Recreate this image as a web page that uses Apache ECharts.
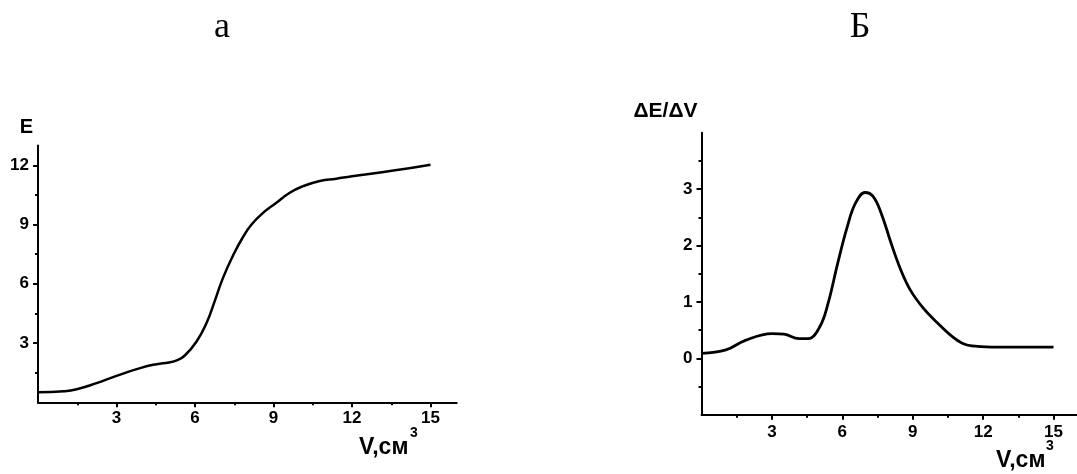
<!DOCTYPE html>
<html>
<head>
<meta charset="utf-8">
<script src="https://cdn.jsdelivr.net/npm/echarts@6/dist/echarts.min.js"></script>
<style>
  html, body { margin: 0; padding: 0; background: #fff; }
  #chart { width: 1077px; height: 474px; }
</style>
</head>
<body>
<div id="chart"></div>
<script>
// ---- Data (a): E vs V ----
const vA = [0, 1.0, 1.48, 2.24, 3.0, 3.9, 4.53, 5.0, 5.3, 5.61, 6.06, 6.44, 6.76, 7.07, 7.46, 7.84, 8.16, 8.6, 9.11, 9.62, 10.13, 10.77, 11.4, 12.0, 13.58, 15.0];
const eA = [0.51, 0.56, 0.66, 0.97, 1.34, 1.73, 1.93, 2.02, 2.12, 2.37, 3.08, 4.01, 5.15, 6.3, 7.45, 8.38, 9.0, 9.59, 10.1, 10.61, 10.94, 11.2, 11.32, 11.44, 11.73, 12.03];

// ---- Data (Б): dE/dV vs V ----
const vB = [0, 1.04, 1.87, 3.0, 3.52, 4.15, 4.56, 5.04, 5.39, 5.8, 6.21, 6.56, 6.97, 7.31, 7.66, 8.08, 8.49, 8.9, 9.45, 10.0, 10.7, 11.11, 11.52, 12.35, 15.0];
const dB = [0.09, 0.15, 0.32, 0.44, 0.43, 0.35, 0.35, 0.56, 0.97, 1.68, 2.33, 2.75, 2.94, 2.87, 2.57, 2.04, 1.57, 1.21, 0.89, 0.65, 0.38, 0.27, 0.22, 0.20, 0.20];

// ---- Tick values ----
const xMajor = [3, 6, 9, 12, 15];
const xMinor = [1.5, 4.5, 7.5, 10.5, 13.5];
const yMajorA = [3, 6, 9, 12];
const yMinorA = [1.5, 4.5, 7.5, 10.5];
const yMajorB = [0, 1, 2, 3];
const yMinorB = [-0.5, 0.5, 1.5, 2.5, 3.5];

const titles = ['а', 'Б'];
const yNames = ['E', 'ΔE/ΔV'];
const xName = 'V,см';
const xNameSup = '3';

const pairs = (xs, ys) => xs.map((x, i) => [x, ys[i]]);

const FONT = "'Liberation Sans', Arial, sans-serif";
const SERIF = "'Liberation Serif', 'DejaVu Serif', serif";
const lab = { fontFamily: FONT, fontWeight: 'bold', fontSize: 17, color: '#000' };
const axLine = { show: true, onZero: false, lineStyle: { color: '#000', width: 2 } };

function majorAxis(grid, pos, min, max, major, margin) {
  return {
    type: 'value', gridIndex: grid, position: pos, min: min, max: max,
    axisLine: axLine,
    axisTick: { show: true, inside: false, length: 5, customValues: major, lineStyle: { color: '#000', width: 2 } },
    axisLabel: Object.assign({ show: true, customValues: major, margin: margin }, lab),
    splitLine: { show: false }
  };
}
function minorAxis(grid, pos, min, max, minor) {
  return {
    type: 'value', gridIndex: grid, position: pos, min: min, max: max,
    axisLine: { show: false, onZero: false },
    axisTick: { show: true, inside: false, length: 3, customValues: minor, lineStyle: { color: '#000', width: 2 } },
    axisLabel: { show: false },
    splitLine: { show: false }
  };
}
function txt(x, y, text, family, size, weight, align) {
  return {
    type: 'text', x: x, y: y,
    style: { text: text, fontFamily: family, fontSize: size, fontWeight: weight, fill: '#000',
             align: align, verticalAlign: 'middle', textAlign: align, textVerticalAlign: 'middle' }
  };
}

const chart = echarts.init(document.getElementById('chart'), null, { renderer: 'canvas' });

const option = {
  backgroundColor: '#fff',
  animation: false,
  grid: [
    { left: 38, right: 620.3, top: 145.5, bottom: 71.7 },
    { left: 701.5, right: -11, top: 132.7, bottom: 59.2 }
  ],
  xAxis: [
    majorAxis(0, 'bottom', 0, 16, xMajor, 8),
    minorAxis(0, 'bottom', 0, 16, xMinor),
    majorAxis(1, 'bottom', 0, 16, xMajor, 9),
    minorAxis(1, 'bottom', 0, 16, xMinor)
  ],
  yAxis: [
    majorAxis(0, 'left', 0, 13, yMajorA, 9),
    minorAxis(0, 'left', 0, 13, yMinorA),
    majorAxis(1, 'left', -1, 4, yMajorB, 9),
    minorAxis(1, 'left', -1, 4, yMinorB)
  ],
  series: [
    {
      type: 'line', xAxisIndex: 0, yAxisIndex: 0, data: pairs(vA, eA),
      smooth: 0.5, showSymbol: false, symbol: 'none',
      lineStyle: { color: '#000', width: 2.5 }
    },
    {
      type: 'line', xAxisIndex: 2, yAxisIndex: 2, data: pairs(vB, dB),
      smooth: 0.4, showSymbol: false, symbol: 'none',
      lineStyle: { color: '#000', width: 2.8 }
    }
  ],
  graphic: [
    txt(222, 28, titles[0], SERIF, 36, 'normal', 'center'),
    txt(860, 28, titles[1], SERIF, 36, 'normal', 'center'),
    txt(26.5, 127, yNames[0], FONT, 20, 'bold', 'center'),
    txt(665.5, 111, yNames[1], FONT, 21, 'bold', 'center'),
    txt(359, 447.5, xName, FONT, 23, 'bold', 'left'),
    txt(410, 433, xNameSup, FONT, 14, 'bold', 'left'),
    txt(996, 461, xName, FONT, 23, 'bold', 'left'),
    txt(1046, 446.5, xNameSup, FONT, 14, 'bold', 'left')
  ]
};
chart.setOption(option);
</script>
</body>
</html>
